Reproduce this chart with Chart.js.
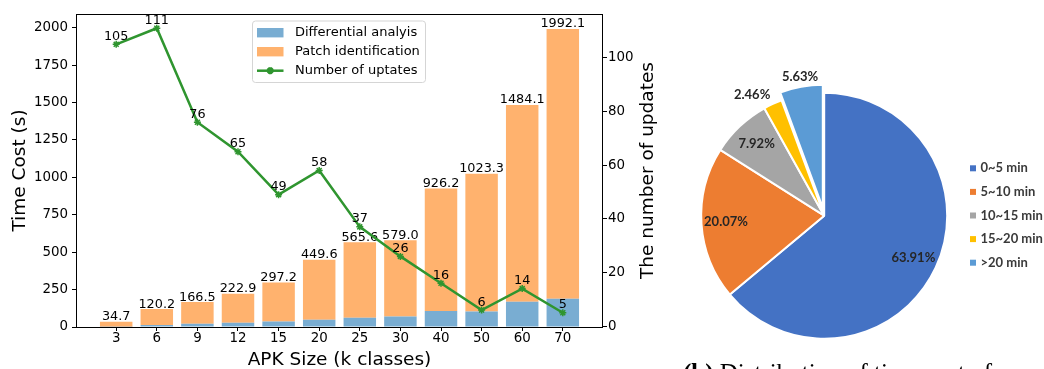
<!DOCTYPE html>
<html>
<head>
<meta charset="utf-8">
<script src="https://cdn.jsdelivr.net/npm/chart.js@4/dist/chart.umd.min.js"></script>
<style>
  html, body { margin: 0; padding: 0; background: #fff; }
  #wrap { position: relative; width: 1044px; height: 369px; overflow: hidden; background: #fff; }
  #bars { position: absolute; left: 0; top: 0; }
  #pie { position: absolute; left: 665px; top: 0; }
  #caption {
    position: absolute; left: 683px; top: 360px; white-space: nowrap;
    font-family: "Liberation Serif", serif; font-size: 25px; line-height: 1; color: #000;
  }
</style>
</head>
<body>
<div id="wrap">
  <canvas id="bars" width="665" height="369"></canvas>
  <canvas id="pie" width="379" height="369"></canvas>
  <div id="caption"><b>(b)</b> Distribution of time cost of</div>
</div>
<script>
// Left: time cost per APK size (stacked bars) + number of updates (line)
const APK_SIZES = ["3", "6", "9", "12", "15", "20", "25", "30", "40", "50", "60", "70"];
const DIFF_TIME = [2, 14, 22, 29, 36, 48, 62, 71, 107, 103, 169, 188];
const PATCH_TIME = [32.7, 106.2, 144.5, 193.9, 261.2, 401.6, 503.6, 508.0, 819.2, 920.3, 1315.1, 1804.1];
const TOTAL_TIME = [34.7, 120.2, 166.5, 222.9, 297.2, 449.6, 565.6, 579.0, 926.2, 1023.3, 1484.1, 1992.1];
const UPDATES = [105, 111, 76, 65, 49, 58, 37, 26, 16, 6, 14, 5];
const TIME_TICKS = [0, 250, 500, 750, 1000, 1250, 1500, 1750, 2000];
const UPDATE_TICKS = [0, 20, 40, 60, 80, 100];
const SERIES_NAMES = ["Differential analyis", "Patch identification", "Number of uptates"];

// Right: distribution of time cost
const TIME_BINS = ["0~5 min", "5~10 min", "10~15 min", "15~20 min", ">20 min"];
const SHARE = [63.91, 20.07, 7.92, 2.46, 5.63];

const BLUE = "#79add2";
const ORANGE = "#ffb26e";
const GREEN = "#2f952f";
const PIE_COLORS = ["#4472c4", "#ed7d31", "#a5a5a5", "#ffc000", "#5b9bd5"];
const FONT = "'DejaVu Sans', sans-serif";

function fixedTicks(values) {
  return (axis) => { axis.ticks = values.map((v) => ({ value: v })); };
}

const barDecor = {
  id: "barDecor",
  afterDatasetDraw(chart, args) {
    // totals on top of the stacked bars, under the line
    if (args.index !== 2) return;
    const ctx = chart.ctx;
    ctx.save();
    ctx.font = `12.8px ${FONT}`;
    ctx.fillStyle = "#000";
    ctx.textAlign = "center";
    ctx.textBaseline = "alphabetic";
    args.meta.data.forEach((bar, i) => ctx.fillText(TOTAL_TIME[i].toFixed(1), bar.x, bar.y - 1.5));
    ctx.restore();
  },
  afterDatasetsDraw(chart) {
    const { ctx, chartArea: a } = chart;
    ctx.save();
    // line labels
    ctx.font = `12.8px ${FONT}`;
    ctx.fillStyle = "#000";
    ctx.textAlign = "center";
    ctx.textBaseline = "alphabetic";
    chart.getDatasetMeta(0).data.forEach((pt, i) => ctx.fillText(String(UPDATES[i]), pt.x, pt.y - 4.5));

    // frame
    ctx.strokeStyle = "#000";
    ctx.lineWidth = 1;
    ctx.strokeRect(Math.round(a.left) + 0.5, Math.round(a.top) + 0.5,
      Math.round(a.width) - 1, Math.round(a.height));

    // right axis title, reading bottom to top
    ctx.save();
    ctx.translate(648, (a.top + a.bottom) / 2);
    ctx.rotate(-Math.PI / 2);
    ctx.font = `18.5px ${FONT}`;
    ctx.textAlign = "center";
    ctx.textBaseline = "middle";
    ctx.fillText("The number of updates", 0, 0);
    ctx.restore();

    // legend
    const lx = 252.5, ly = 21, lw = 173, lh = 61.5;
    ctx.beginPath();
    ctx.roundRect(lx, ly, lw, lh, 3);
    ctx.fillStyle = "rgba(255,255,255,0.8)";
    ctx.fill();
    ctx.strokeStyle = "#d5d5d5";
    ctx.stroke();
    const rows = [32.7, 51.7, 70.7];
    ctx.fillStyle = BLUE;
    ctx.fillRect(257, rows[0] - 4.7, 26.5, 9.4);
    ctx.fillStyle = ORANGE;
    ctx.fillRect(257, rows[1] - 4.7, 26.5, 9.4);
    ctx.strokeStyle = GREEN;
    ctx.lineWidth = 2.5;
    ctx.beginPath();
    ctx.moveTo(257, rows[2]);
    ctx.lineTo(283.5, rows[2]);
    ctx.stroke();
    ctx.fillStyle = GREEN;
    Chart.helpers.drawPoint(ctx, { pointStyle: "star", radius: 3.5, borderWidth: 1.5, rotation: 0 }, 270.2, rows[2]);
    ctx.font = `13px ${FONT}`;
    ctx.fillStyle = "#000";
    ctx.textAlign = "left";
    ctx.textBaseline = "middle";
    SERIES_NAMES.forEach((name, i) => ctx.fillText(name, 295, rows[i]));
    ctx.restore();
  },
};

new Chart(document.getElementById("bars"), {
  data: {
    datasets: [
      {
        type: "line",
        label: SERIES_NAMES[2],
        data: UPDATES.map((v, i) => ({ x: i, y: v })),
        yAxisID: "y1",
        order: 0,
        borderColor: GREEN,
        backgroundColor: GREEN,
        borderWidth: 2.5,
        pointStyle: "star",
        pointRadius: 3.5,
        pointBorderWidth: 1.5,
        tension: 0,
      },
      {
        type: "bar",
        label: SERIES_NAMES[0],
        data: DIFF_TIME.map((v, i) => ({ x: i, y: v })),
        yAxisID: "y",
        order: 1,
        backgroundColor: BLUE,
        barPercentage: 0.8,
        categoryPercentage: 1,
      },
      {
        type: "bar",
        label: SERIES_NAMES[1],
        data: PATCH_TIME.map((v, i) => ({ x: i, y: v })),
        yAxisID: "y",
        order: 2,
        backgroundColor: ORANGE,
        barPercentage: 0.8,
        categoryPercentage: 1,
      },
    ],
  },
  options: {
    responsive: false,
    animation: false,
    layout: { padding: { top: 14, left: 0, right: 0, bottom: 0 } },
    plugins: { legend: { display: false }, tooltip: { enabled: false } },
    scales: {
      x: {
        type: "linear",
        stacked: true,
        offset: false,
        min: -0.99,
        max: 11.99,
        afterBuildTicks: fixedTicks(APK_SIZES.map((_, i) => i)),
        afterFit: (s) => { s.height = 42; },
        ticks: {
          autoSkip: false, maxRotation: 0, padding: 1, color: "#000",
          font: { family: FONT, size: 13.4, lineHeight: 1 },
          callback: (v) => APK_SIZES[v],
        },
        grid: { offset: false, drawOnChartArea: false, tickLength: 4, color: "#000" },
        border: { display: false },
        title: {
          display: true, text: "APK Size (k classes)", color: "#000",
          font: { family: FONT, size: 18.5, lineHeight: 1 }, padding: { top: 0, bottom: 0 },
        },
      },
      y: {
        position: "left",
        stacked: true,
        min: 0,
        max: 2091.7,
        afterBuildTicks: fixedTicks(TIME_TICKS),
        afterFit: (s) => { s.width = 76; },
        ticks: { padding: 4, color: "#000", font: { family: FONT, size: 13.4 }, callback: (v) => String(v) },
        grid: { drawOnChartArea: false, tickLength: 4, color: "#000" },
        border: { display: false },
        title: {
          display: true, text: "Time Cost (s)", color: "#000",
          font: { family: FONT, size: 18.5, lineHeight: 1 }, padding: { top: 11, bottom: 0 },
        },
      },
      y1: {
        position: "right",
        min: -0.3,
        max: 116.3,
        afterBuildTicks: fixedTicks(UPDATE_TICKS),
        afterFit: (s) => { s.width = 62; },
        ticks: { padding: 1, color: "#000", font: { family: FONT, size: 13.4 }, callback: (v) => String(v) },
        grid: { drawOnChartArea: false, tickLength: 4, color: "#000" },
        border: { display: false },
      },
    },
  },
  plugins: [barDecor],
});

// Pie: last slice pulled out a little
const explode = {
  id: "explode",
  afterUpdate(chart) {
    const arc = chart.getDatasetMeta(0).data[SHARE.length - 1];
    const mid = (arc.startAngle + arc.endAngle) / 2;
    arc.x += Math.cos(mid) * 8;
    arc.y += Math.sin(mid) * 8;
  },
};

const pieDecor = {
  id: "pieDecor",
  afterDatasetsDraw(chart) {
    const ctx = chart.ctx;
    ctx.save();
    ctx.font = "bold 13px Lato, sans-serif";
    ctx.fillStyle = "#262626";
    chart.getDatasetMeta(0).data.forEach((arc, i) => {
      const mid = (arc.startAngle + arc.endAngle) / 2;
      const dx = Math.cos(mid), dy = Math.sin(mid);
      const text = SHARE[i].toFixed(2) + "%";
      if (SHARE[i] > 7) {
        const r = arc.outerRadius * 0.8;
        ctx.textAlign = "center";
        ctx.textBaseline = "middle";
        ctx.fillText(text, arc.x + dx * r, arc.y + dy * r);
      } else {
        const r = arc.outerRadius + 6;
        ctx.textAlign = dx < -0.3 ? "right" : dx > 0.3 ? "left" : "center";
        ctx.textBaseline = dy < 0 ? "alphabetic" : "top";
        ctx.fillText(text, arc.x + dx * r, arc.y + dy * r);
      }
    });

    // legend
    ctx.font = "bold 13px Lato, sans-serif";
    ctx.textAlign = "left";
    ctx.textBaseline = "middle";
    TIME_BINS.forEach((name, i) => {
      const y = 168.3 + i * 23.6;
      ctx.fillStyle = PIE_COLORS[i];
      ctx.fillRect(305, y - 3, 6, 6);
      ctx.fillStyle = "#3a3a3a";
      ctx.fillText(name, 315.5, y);
    });
    ctx.restore();
  },
};

new Chart(document.getElementById("pie"), {
  type: "pie",
  data: {
    labels: TIME_BINS,
    datasets: [{
      data: SHARE,
      backgroundColor: PIE_COLORS,
      borderColor: "#fff",
      borderWidth: 2,
      radius: 123,
    }],
  },
  options: {
    responsive: false,
    animation: false,
    layout: { padding: { left: 0, right: 60.6, top: 62.4, bottom: 0 } },
    plugins: { legend: { display: false }, tooltip: { enabled: false } },
  },
  plugins: [explode, pieDecor],
});
</script>
</body>
</html>
